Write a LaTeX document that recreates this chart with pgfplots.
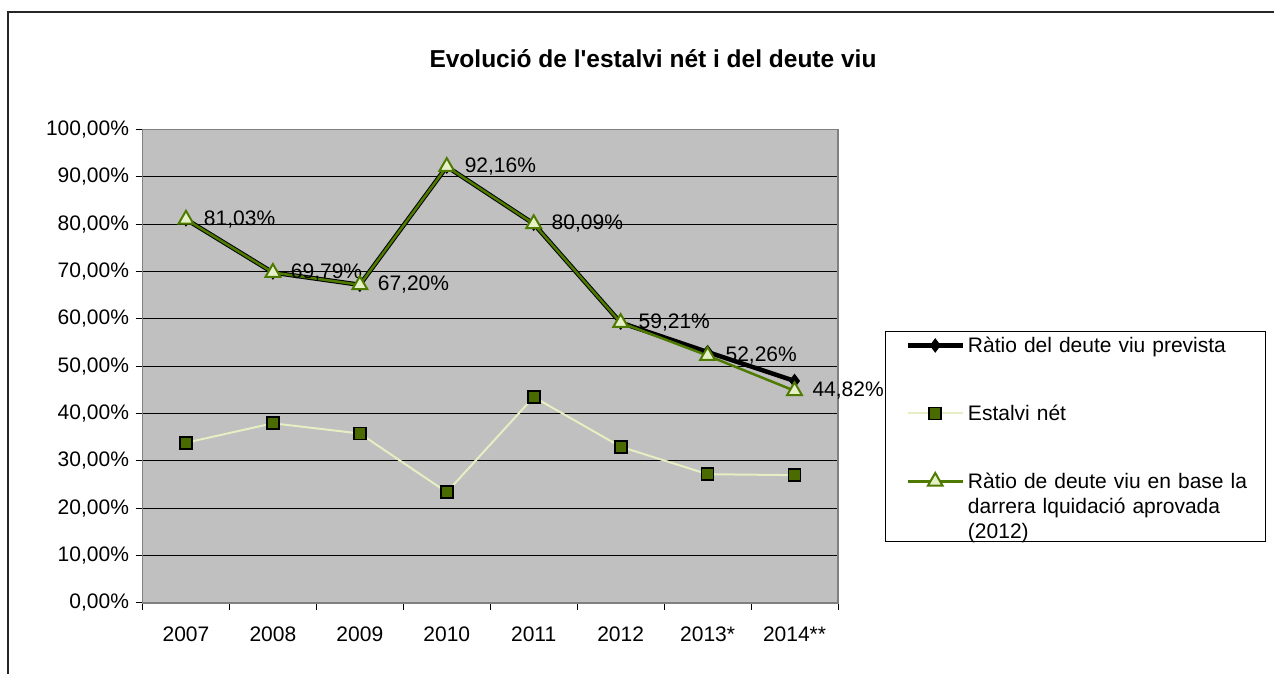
\documentclass[border=0pt]{standalone}
\usepackage{pgfplots}
\pgfplotsset{compat=1.18}
\usepackage{fontspec}
\setmainfont{Liberation Sans}
\definecolor{plotbg}{HTML}{C0C0C0}
\definecolor{olivel}{HTML}{4F7A00}
\definecolor{trifill}{HTML}{E6F0C8}
\definecolor{sqfill}{HTML}{4A6B00}
\definecolor{estline}{HTML}{E6EEC4}
\begin{document}
\begin{tikzpicture}[x=1pt,y=1pt]
\useasboundingbox (0,0) rectangle (1274,674);
\draw[line width=1.5pt, black!85] (8,0) -- (8,662) -- (1274,662);
\node[font=\fontsize{24.5}{28}\selectfont\bfseries] at (653,615) {Evolució de l\textquotesingle estalvi nét i del deute viu};
\begin{axis}[
  at={(142.5pt,71pt)}, anchor=south west,
  width=695.5pt, height=473.5pt, scale only axis,
  xmin=0, xmax=8, ymin=0, ymax=100,
  clip=false,
  axis background/.style={fill=plotbg},
  axis line style={draw=gray, line width=1.2pt},
  ytick={0,10,...,100},
  yticklabels={{0,00\%},{10,00\%},{20,00\%},{30,00\%},{40,00\%},{50,00\%},{60,00\%},{70,00\%},{80,00\%},{90,00\%},{100,00\%}},
  xtick={0.5,1.5,...,7.5},
  xticklabels={2007,2008,2009,2010,2011,2012,2013*,2014**},
  minor xtick={0,1,...,8},
  major x tick style={draw=none},
  tick pos=left, tick align=outside,
  major tick length=7pt, minor tick length=7pt,
  tick style={black, line width=1pt},
  ymajorgrids, grid style={black, line width=0.9pt},
  ticklabel style={font=\fontsize{21}{25}\selectfont},
  yticklabel style={xshift=-3pt},
  xticklabel style={yshift=-13pt},
  legend style={at={(1.06757,0.57445)}, anchor=north west, draw=black, line width=1pt, fill=white,
    inner sep=4pt, row sep=44pt, column sep=1pt,
    nodes={inner sep=2pt, text height=15pt, text depth=5pt, text width=291pt, align=left,
      font=\fontsize{21}{25}\selectfont},
    cells={anchor=base west}},
  legend image code/.code={
    \path (0pt,0pt);
    \draw[mark repeat=2,mark phase=2,#1] plot coordinates {(16pt,7pt) (43.5pt,7pt) (71pt,7pt)};
  },
]
\addplot[black, line width=4.5pt, mark=diamond*, mark size=6.5pt, mark options={fill=black, line width=1pt}]
  coordinates {(0.5,81.03) (1.5,69.79) (2.5,67.20) (3.5,92.16) (4.5,80.09) (5.5,59.21) (6.5,53.0) (7.5,46.9)};
\addlegendentry{Ràtio del deute viu prevista}
\addplot[estline, line width=2pt, mark=square*, mark size=6pt, mark options={fill=sqfill, draw=black, line width=1.8pt}]
  coordinates {(0.5,33.85) (1.5,37.95) (2.5,35.8) (3.5,23.4) (4.5,43.5) (5.5,33.0) (6.5,27.2) (7.5,27.0)};
\addlegendentry{Estalvi nét}
\addplot[olivel, line width=2.5pt, mark=triangle*, mark size=8.5pt, mark options={fill=trifill, draw=olivel, line width=2pt},
  nodes near coords, point meta=explicit symbolic,
  every node near coord/.append style={anchor=west, xshift=17pt, inner sep=0pt, text=black,
    font=\fontsize{21}{25}\selectfont}]
  coordinates {(0.5,81.03) [81,03\%] (1.5,69.79) [69,79\%] (2.5,67.20) [67,20\%] (3.5,92.16) [92,16\%]
    (4.5,80.09) [80,09\%] (5.5,59.21) [59,21\%] (6.5,52.26) [52,26\%] (7.5,44.82) [44,82\%]};
\addlegendentry[text depth=47.5pt]{Ràtio de deute viu en base la\\darrera lquidació aprovada\\(2012)}
\end{axis}
\end{tikzpicture}
\end{document}
